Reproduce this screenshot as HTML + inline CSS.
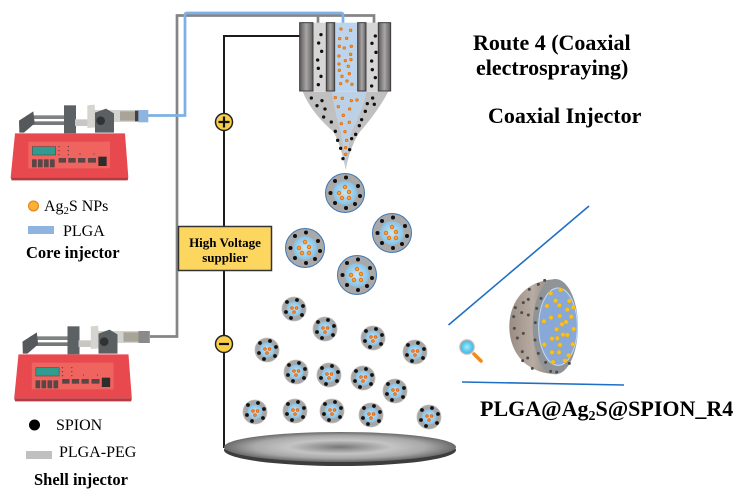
<!DOCTYPE html>
<html><head><meta charset="utf-8"><style>
html,body{margin:0;padding:0;background:#fff}
svg{display:block}
text{font-family:"Liberation Serif",serif;fill:#000}
.b{font-weight:bold}
</style></head><body>
<svg width="739" height="500" viewBox="0 0 739 500" xmlns="http://www.w3.org/2000/svg">
<defs>
<linearGradient id="bar" x1="0" x2="1" y1="0" y2="0"><stop offset="0" stop-color="#5c5858"/><stop offset=".5" stop-color="#a8a6a6"/><stop offset="1" stop-color="#605c5c"/></linearGradient>
<radialGradient id="core"><stop offset="0" stop-color="#c9e6f5"/><stop offset="1" stop-color="#84c2e8"/></radialGradient>
<radialGradient id="plate"><stop offset="0" stop-color="#777"/><stop offset=".45" stop-color="#c4c4c4"/><stop offset=".75" stop-color="#a8a8a8"/><stop offset="1" stop-color="#6a6a6a"/></radialGradient>
<linearGradient id="dome" x1="0" x2="1"><stop offset="0" stop-color="#9a8c82"/><stop offset=".5" stop-color="#b8aca2"/><stop offset="1" stop-color="#85807c"/></linearGradient>
<radialGradient id="lens"><stop offset="0" stop-color="#a8ecfa"/><stop offset="1" stop-color="#2fb6e8"/></radialGradient>
<g id="o"><circle r="1.7" fill="#f7a740" stroke="#e8720c" stroke-width="1"/></g>
<g id="os"><circle r="1.3" fill="#f7a740" stroke="#e8620c" stroke-width="1"/></g>
<g id="big">
<circle r="19.500" fill="#a9a9a9" stroke="#3d77b3" stroke-width="1"/>
<circle r="12" fill="url(#core)"/>
<g fill="#111"><circle cx="-10" cy="-12" r="2"/><circle cx="1" cy="-15.500" r="2"/><circle cx="13" cy="-7" r="2"/><circle cx="15" cy="3" r="2"/><circle cx="10" cy="11" r="2"/><circle cx="1" cy="15" r="2"/><circle cx="-10" cy="10" r="2"/><circle cx="-14.500" cy="0" r="2"/></g>
<use href="#o" x="0" y="-6"/><use href="#o" x="-6" y="0"/><use href="#o" x="4" y="-1"/><use href="#o" x="-3" y="5"/><use href="#o" x="4" y="5"/>
</g>
<g id="sm">
<circle r="12" fill="#a6a6a6" stroke="#bdbdbd" stroke-width=".8"/>
<circle r="7.500" fill="url(#core)"/>
<g fill="#111"><circle cx="-7" cy="-7" r="1.900"/><circle cx="3" cy="-9" r="1.900"/><circle cx="9" cy="-3" r="1.900"/><circle cx="8" cy="6" r="1.900"/><circle cx="-3" cy="9" r="1.900"/><circle cx="-8" cy="3" r="1.900"/></g>
<use href="#os" x="-2" y="-1"/><use href="#os" x="2.500" y="-1"/><use href="#os" x="0" y="3"/>
</g>
<g id="pump">
<polygon points="45,130 375,130 385,262 32,262" fill="#e8494f"/>
<polygon points="32,262 385,262 383,271 35,271" fill="#b23a40"/>
<rect x="85" y="155" width="245" height="80" fill="#f0645f"/>
<rect x="97" y="170" width="70" height="25" fill="#2f9c8e" stroke="#55504f" stroke-width="2"/>
<g fill="#5b4546"><rect x="96" y="208" width="14" height="24"/><rect x="114" y="208" width="14" height="24"/><rect x="132" y="208" width="14" height="24"/><rect x="150" y="208" width="14" height="24"/><rect x="176" y="204" width="22" height="14"/><rect x="205" y="204" width="22" height="14"/><rect x="234" y="204" width="22" height="14"/><rect x="264" y="204" width="24" height="14"/></g>
<rect x="295" y="200" width="25" height="28" fill="#2f2c2c"/>
<g fill="#5b4546"><circle cx="177" cy="170" r="2"/><circle cx="177" cy="182" r="2"/><circle cx="177" cy="194" r="2"/><circle cx="205" cy="170" r="2"/><circle cx="205" cy="182" r="2"/><circle cx="205" cy="194" r="2"/><circle cx="240" cy="192" r="2"/><circle cx="282" cy="192" r="2"/></g>
<rect x="80" y="76" width="120" height="11" fill="#808383"/><rect x="80" y="94" width="120" height="11" fill="#767979"/>
<polygon points="57,92 100,64 104,100 72,128 58,128" fill="#55595b"/>
<rect x="192" y="46" width="36" height="84" fill="#5c6163"/>
<rect x="225" y="88" width="60" height="20" fill="#c9c7c3"/>
<polygon points="262,46 284,44 288,112 262,114" fill="#d6d4d0"/>
<rect x="280" y="60" width="135" height="36" fill="#d2d2ce"/>
<rect x="360" y="64" width="55" height="28" fill="#a8a498"/>
<rect x="405" y="62" width="11" height="32" fill="#44403c"/>
<polygon points="285,68 318,56 342,70 342,128 285,128" fill="#5a5f61"/>
<circle cx="302" cy="92" r="13" fill="#303233"/>
</g>
</defs>

<!-- tubes and wires -->
<path d="M150,336.500H177V15.500H374V32M318,15.500V30" fill="none" stroke="#858585" stroke-width="2.700"/>
<path d="M146,115.500H185V15Q185,13 187,13H341Q343,13 343,15V30" fill="none" stroke="#7fb0e3" stroke-width="2.700"/>
<path d="M300,36H224V448" fill="none" stroke="#1c1c1c" stroke-width="2"/>

<!-- pumps -->
<g transform="translate(0,90) scale(.3333)"><use href="#pump"/><rect x="415" y="60" width="30" height="37" fill="#8fb4e0"/></g>
<g transform="translate(3.500,311) scale(.3333)"><use href="#pump"/><rect x="405" y="60" width="34" height="36" fill="#8a8a8a"/></g>

<!-- injector -->
<g transform="translate(170,0) scale(.3333)">
<rect x="430" y="68" width="38" height="206" fill="#d6d6d6"/>
<rect x="588" y="68" width="36" height="206" fill="#d6d6d6"/>
<rect x="494" y="68" width="68" height="206" fill="#bcd4ec"/>
<path d="M398,275H655Q620,340 570,395Q540,440 527,510Q515,440 490,395Q425,340 398,275Z" fill="#c0c0c0"/>
<path d="M485,275H590Q575,340 545,395Q532,450 527,510Q522,450 512,395Q495,340 485,275Z" fill="#bcd0e6"/>
<g stroke="#3e3c3c" stroke-width="3">
<rect x="389" y="68" width="40" height="205" fill="url(#bar)"/>
<rect x="469" y="68" width="25" height="205" fill="url(#bar)"/>
<rect x="563" y="68" width="25" height="205" fill="url(#bar)"/>
<rect x="625" y="68" width="37" height="205" fill="url(#bar)"/>
</g>
<g fill="#111">
<circle cx="453" cy="104" r="5"/><circle cx="446" cy="129" r="5"/><circle cx="455" cy="154" r="5"/><circle cx="443" cy="180" r="5"/><circle cx="445" cy="205" r="5"/><circle cx="453" cy="229" r="5"/><circle cx="445" cy="254" r="5"/>
<circle cx="616" cy="108" r="5"/><circle cx="606" cy="130" r="5"/><circle cx="618" cy="157" r="5"/><circle cx="605" cy="183" r="5"/><circle cx="607" cy="209" r="5"/><circle cx="616" cy="233" r="5"/><circle cx="605" cy="258" r="5"/>
<circle cx="424" cy="294" r="5"/><circle cx="456" cy="302" r="5"/><circle cx="441" cy="317" r="5"/><circle cx="465" cy="327" r="5"/><circle cx="461" cy="351" r="5"/><circle cx="484" cy="366" r="5"/><circle cx="496" cy="394" r="5"/><circle cx="503" cy="421" r="5"/><circle cx="512" cy="445" r="5"/><circle cx="519" cy="476" r="5"/>
<circle cx="608" cy="294" r="5"/><circle cx="592" cy="311" r="5"/><circle cx="613" cy="313" r="5"/><circle cx="586" cy="334" r="5"/><circle cx="575" cy="359" r="5"/><circle cx="568" cy="377" r="5"/><circle cx="557" cy="403" r="5"/><circle cx="545" cy="416" r="5"/><circle cx="539" cy="449" r="5"/>
</g>
<g fill="#f7a740" stroke="#e8720c" stroke-width="3">
<circle cx="513" cy="87" r="3.500"/><circle cx="542" cy="91" r="3.500"/><circle cx="509" cy="116" r="3.500"/><circle cx="530" cy="115" r="3.500"/><circle cx="508" cy="139" r="3.500"/><circle cx="523" cy="144" r="3.500"/><circle cx="544" cy="139" r="3.500"/><circle cx="542" cy="163" r="3.500"/><circle cx="507" cy="168" r="3.500"/><circle cx="526" cy="182" r="3.500"/><circle cx="543" cy="179" r="3.500"/><circle cx="507" cy="192" r="3.500"/><circle cx="535" cy="199" r="3.500"/><circle cx="508" cy="211" r="3.500"/><circle cx="538" cy="221" r="3.500"/><circle cx="516" cy="229" r="3.500"/><circle cx="531" cy="243" r="3.500"/><circle cx="512" cy="251" r="3.500"/><circle cx="546" cy="253" r="3.500"/>
<circle cx="496" cy="293" r="3.500"/><circle cx="517" cy="295" r="3.500"/><circle cx="544" cy="302" r="3.500"/><circle cx="561" cy="300" r="3.500"/><circle cx="505" cy="320" r="3.500"/><circle cx="539" cy="327" r="3.500"/><circle cx="520" cy="346" r="3.500"/><circle cx="514" cy="371" r="3.500"/><circle cx="538" cy="367" r="3.500"/><circle cx="525" cy="395" r="3.500"/><circle cx="530" cy="421" r="3.500"/><circle cx="527" cy="443" r="3.500"/><circle cx="527" cy="463" r="3.500"/>
</g>
</g>

<!-- plus / minus -->
<circle cx="224" cy="122" r="8.500" fill="#f9cf4a" stroke="#222" stroke-width="1.500"/>
<path d="M218.500,122H229.500M224,116.500V127.500" stroke="#111" stroke-width="2.200"/>
<circle cx="224" cy="344" r="8.500" fill="#f9cf4a" stroke="#222" stroke-width="1.500"/>
<path d="M219,344H229" stroke="#111" stroke-width="2.200"/>

<!-- voltage box -->
<rect x="178.500" y="226.500" width="93" height="44" fill="#fdd65f" stroke="#333" stroke-width="1.500"/>
<text class="b" x="225" y="247" font-size="13" text-anchor="middle">High Voltage</text>
<text class="b" x="225" y="262" font-size="13" text-anchor="middle">supplier</text>

<!-- particles -->
<use href="#big" x="345" y="193"/><use href="#big" x="392" y="233"/><use href="#big" x="305" y="248"/><use href="#big" x="357" y="275"/>
<use href="#sm" x="294" y="309"/><use href="#sm" x="325" y="329"/><use href="#sm" x="373" y="338"/><use href="#sm" x="415" y="352"/><use href="#sm" x="267" y="350"/><use href="#sm" x="296" y="372"/><use href="#sm" x="329" y="375"/><use href="#sm" x="363" y="378"/><use href="#sm" x="395" y="391"/><use href="#sm" x="255" y="412"/><use href="#sm" x="295" y="411"/><use href="#sm" x="332" y="411"/><use href="#sm" x="371" y="415"/><use href="#sm" x="429" y="417"/>

<!-- plate -->
<ellipse cx="340" cy="450" rx="116" ry="16" fill="#3d3d3d"/>
<ellipse cx="340" cy="447" rx="116" ry="15" fill="url(#plate)"/>

<!-- zoom section -->
<path d="M448.500,325L589,206M462,382L624,385" stroke="#1f6fc4" stroke-width="1.600" fill="none"/>
<path d="M474,354L481,361" stroke="#f28a1a" stroke-width="3.500" stroke-linecap="round"/>
<circle cx="467" cy="347" r="7" fill="url(#lens)" stroke="#b5b5b5" stroke-width="1.500"/>
<g transform="translate(440,200) scale(.3333)">
<path d="M348,238C262,238 208,300 208,380C208,460 262,522 348,522Z" fill="url(#dome)"/>
<ellipse cx="346" cy="380" rx="68" ry="143" fill="#8f9499"/>
<ellipse cx="354" cy="380" rx="58" ry="116" fill="#88a9d8" stroke="#c5dcf0" stroke-width="3"/>
<g fill="#4c4c4c">
<circle cx="314" cy="241" r="4.500"/><circle cx="295" cy="253" r="4.500"/><circle cx="268" cy="268" r="4.500"/><circle cx="303" cy="295" r="4.500"/><circle cx="265" cy="298" r="4.500"/><circle cx="250" cy="308" r="4.500"/><circle cx="226" cy="323" r="4.500"/><circle cx="290" cy="325" r="4.500"/><circle cx="265" cy="345" r="4.500"/><circle cx="221" cy="350" r="4.500"/><circle cx="245" cy="338" r="4.500"/><circle cx="286" cy="368" r="4.500"/><circle cx="223" cy="385" r="4.500"/><circle cx="250" cy="400" r="4.500"/><circle cx="232" cy="414" r="4.500"/><circle cx="285" cy="420" r="4.500"/><circle cx="247" cy="455" r="4.500"/><circle cx="295" cy="460" r="4.500"/><circle cx="263" cy="474" r="4.500"/><circle cx="248" cy="482" r="4.500"/><circle cx="317" cy="487" r="4.500"/><circle cx="277" cy="505" r="4.500"/><circle cx="332" cy="514" r="4.500"/><circle cx="350" cy="516" r="4.500"/><circle cx="388" cy="490" r="4.500"/>
</g>
<g fill="#f6c21c" stroke="#e39b12" stroke-width="1">
<circle cx="332" cy="280" r="6.500"/><circle cx="362" cy="270" r="6.500"/><circle cx="347" cy="302" r="6.500"/><circle cx="388" cy="303" r="6.500"/><circle cx="321" cy="318" r="6.500"/><circle cx="358" cy="316" r="6.500"/><circle cx="400" cy="322" r="6.500"/><circle cx="382" cy="329" r="6.500"/><circle cx="394" cy="350" r="6.500"/><circle cx="333" cy="353" r="6.500"/><circle cx="359" cy="348" r="6.500"/><circle cx="312" cy="364" r="6.500"/><circle cx="378" cy="366" r="6.500"/><circle cx="366" cy="373" r="6.500"/><circle cx="350" cy="388" r="6.500"/><circle cx="401" cy="387" r="6.500"/><circle cx="369" cy="404" r="6.500"/><circle cx="382" cy="405" r="6.500"/><circle cx="336" cy="416" r="6.500"/><circle cx="352" cy="415" r="6.500"/><circle cx="313" cy="434" r="6.500"/><circle cx="360" cy="435" r="6.500"/><circle cx="398" cy="433" r="6.500"/><circle cx="336" cy="457" r="6.500"/><circle cx="357" cy="457" r="6.500"/><circle cx="386" cy="466" r="6.500"/><circle cx="339" cy="486" r="6.500"/><circle cx="375" cy="482" r="6.500"/>
</g>
</g>

<!-- legend -->
<circle cx="33.500" cy="206" r="5" fill="#f9b233" stroke="#ea7a10" stroke-width="1"/>
<text x="44" y="211" font-size="16">Ag<tspan font-size="10.500" dy="3">2</tspan><tspan dy="-3">S NPs</tspan></text>
<rect x="28" y="226" width="26" height="8" fill="#8fb4e0"/>
<text x="63" y="236" font-size="16">PLGA</text>
<text class="b" x="26" y="258" font-size="16.500">Core injector</text>
<circle cx="34.500" cy="425" r="5.500" fill="#000"/>
<text x="56" y="430" font-size="16">SPION</text>
<rect x="26" y="451" width="26" height="8" fill="#c0c0c0"/>
<text x="59" y="457" font-size="16">PLGA-PEG</text>
<text class="b" x="34" y="485" font-size="16.500">Shell injector</text>

<!-- headings -->
<text class="b" x="473" y="50" font-size="22">Route 4 (Coaxial</text>
<text class="b" x="476" y="75" font-size="22">electrospraying)</text>
<text class="b" x="488" y="123" font-size="22">Coaxial Injector</text>
<text class="b" x="480" y="416" font-size="22">PLGA@Ag<tspan font-size="14" dy="4">2</tspan><tspan dy="-4">S@SPION_R4</tspan></text>
</svg>
</body></html>
